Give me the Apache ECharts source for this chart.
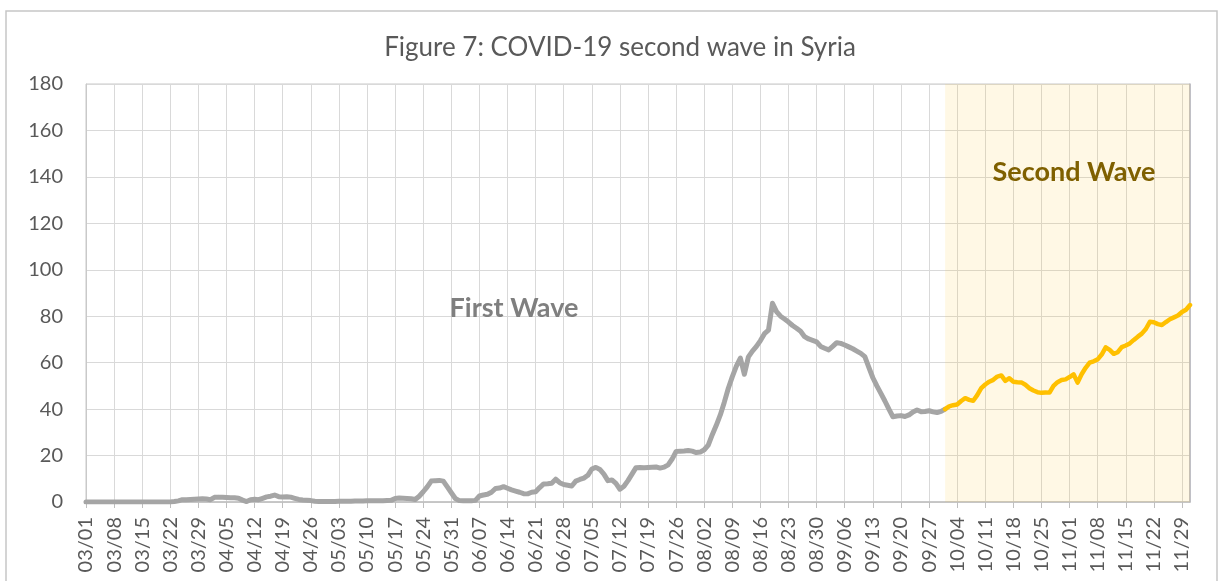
<!DOCTYPE html>
<html>
<head>
<meta charset="utf-8">
<script src="https://cdn.jsdelivr.net/npm/echarts@6/dist/echarts.min.js"></script>
<style>
  html, body { margin: 0; padding: 0; background: #ffffff; }
  #chart { width: 1223px; height: 581px; }
</style>
</head>
<body>
<div id="chart"></div>
<script>
// Daily 7-day average of new COVID-19 cases in Syria, 03/01 to 12/01.
const startDate = new Date(2020, 2, 1);
const dayCount = 276;

// First wave: one value per day from 03/01 through 10/01
const firstWave = [
  0, 0, 0, 0, 0, 0, 0, 0, 0, 0,
  0, 0, 0, 0, 0, 0, 0, 0, 0, 0,
  0, 0, 0.2, 0.5, 1.0, 1.0, 1.1, 1.2, 1.3, 1.4,
  1.3, 1.0, 2.0, 2.1, 2.0, 1.9, 1.8, 1.8, 1.6, 0.8,
  0.2, 1.0, 1.2, 1.0, 1.6, 2.2, 2.5, 3.0, 2.3, 2.2,
  2.3, 2.1, 1.6, 1.1, 0.9, 0.8, 0.6, 0.3, 0.2, 0.2,
  0.2, 0.2, 0.2, 0.3, 0.3, 0.3, 0.3, 0.4, 0.4, 0.4,
  0.5, 0.5, 0.5, 0.5, 0.5, 0.6, 0.7, 1.5, 1.7, 1.6,
  1.5, 1.4, 1.1, 2.5, 4.4, 6.5, 9.0, 9.2, 9.3, 9.0,
  6.5, 4.0, 1.5, 0.6, 0.5, 0.5, 0.5, 0.7, 2.6, 3.0,
  3.3, 4.2, 5.8, 6.0, 6.6, 5.9, 5.2, 4.7, 4.2, 3.6,
  3.5, 4.2, 4.4, 6.2, 7.8, 7.9, 8.1, 9.8, 8.3, 7.5,
  7.2, 6.9, 9.0, 9.7, 10.3, 11.5, 14.2, 14.9, 14.0, 12.0,
  9.2, 9.5, 8.0, 5.5, 6.8, 9.2, 12.0, 14.8, 14.9, 14.8,
  14.9, 15.0, 15.1, 14.6, 15.0, 16.0, 18.5, 21.8, 21.9, 22.0,
  22.2, 21.9, 21.3, 21.5, 22.5, 24.5, 29.0, 33.0, 37.5, 43.0,
  49.0, 54.0, 58.5, 62.0, 55.0, 62.5, 65.0, 67.0, 69.5, 72.5,
  74.0, 85.6, 82.0, 80.0, 78.8, 77.5, 76.0, 74.8, 73.5, 71.2,
  70.2, 69.6, 69.0, 67.0, 66.2, 65.5, 67.0, 68.6, 68.3, 67.6,
  66.8, 66.0, 65.0, 64.0, 62.6, 58.0, 53.5, 50.0, 46.8, 43.5,
  40.0, 36.7, 37.0, 37.2, 36.8, 37.5, 38.8, 39.6, 38.9, 39.0,
  39.3, 38.8, 38.5, 39.0, 40.0
];

// Second wave: one value per day from 10/01 through 12/01
const secondWaveStart = 214;
const secondWave = [
  40.0, 41.2, 41.7, 42.0, 43.5, 44.7, 44.0, 43.6, 46.0, 49.0,
  50.6, 51.8, 52.6, 54.0, 54.5, 52.2, 53.3, 51.8, 51.6, 51.5,
  50.5, 49.0, 48.0, 47.3, 47.0, 47.2, 47.1, 50.0, 51.6, 52.5,
  52.8, 53.8, 55.0, 51.4, 55.0, 57.8, 60.0, 60.6, 61.4, 63.5,
  66.6, 65.5, 63.8, 64.5, 66.7, 67.4, 68.3, 69.8, 71.2, 72.5,
  74.5, 77.6, 77.4, 76.6, 76.2, 77.5, 78.7, 79.5, 80.3, 81.8,
  82.8, 84.8
];

const yTicks = { min: 0, max: 180, step: 20 };

// Category labels MM/DD, one per day
const dates = [];
for (let i = 0; i < dayCount; i++) {
  const d = new Date(startDate.getTime());
  d.setDate(startDate.getDate() + i);
  const mm = String(d.getMonth() + 1).padStart(2, '0');
  const dd = String(d.getDate()).padStart(2, '0');
  dates.push(mm + '/' + dd);
}

const firstData = dates.map((_, i) => i < firstWave.length ? firstWave[i] : '-');
const secondData = dates.map((_, i) => {
  const k = i - secondWaveStart;
  return k >= 0 && k < secondWave.length ? secondWave[k] : '-';
});

const FONT = 'Lato, "Open Sans", sans-serif';
const chart = echarts.init(document.getElementById('chart'), null, { renderer: 'canvas' });

chart.setOption({
  animation: false,
  backgroundColor: '#ffffff',
  grid: {
    left: 86, right: 33, top: 84, bottom: 79,
    show: true, borderColor: '#C9C9C9', borderWidth: 1, backgroundColor: 'transparent'
  },
  xAxis: {
    type: 'category',
    data: dates,
    boundaryGap: false,
    axisLine: { show: true, lineStyle: { color: '#BFBFBF', width: 1.5 } },
    axisTick: { show: true, interval: 6, length: 6, lineStyle: { color: '#BFBFBF' } },
    axisLabel: {
      interval: 6, rotate: 90, margin: 15,
      color: '#595959', fontSize: 20, fontFamily: FONT
    },
    splitLine: { show: true, interval: 6, lineStyle: { color: '#D9D9D9', width: 1 } }
  },
  yAxis: [{
    type: 'value',
    min: yTicks.min, max: yTicks.max, interval: yTicks.step,
    axisLine: { show: true, lineStyle: { color: '#C9C9C9' } },
    axisTick: { show: false },
    axisLabel: { color: '#595959', fontSize: 20, fontFamily: FONT, margin: 23 },
    splitLine: { show: true, lineStyle: { color: '#D9D9D9', width: 1 } }
  }, {
    type: 'value', position: 'right',
    min: yTicks.min, max: yTicks.max, interval: yTicks.step,
    axisLine: { show: true, lineStyle: { color: '#B4B4BC', width: 1.5 } },
    axisTick: { show: false }, axisLabel: { show: false }, splitLine: { show: false }
  }],
  series: [
    {
      // shaded band marking the second wave period
      type: 'line', data: [], z: 1, silent: true,
      markArea: {
        silent: true,
        itemStyle: { color: 'rgba(252, 200, 40, 0.12)' },
        data: [[{ xAxis: dates[secondWaveStart] }, { xAxis: dates[dayCount - 1] }]]
      }
    },
    {
      name: 'First Wave', type: 'line', data: firstData, z: 3,
      showSymbol: false, connectNulls: false,
      lineStyle: { color: '#A5A5A5', width: 5, cap: 'round', join: 'round' }
    },
    {
      name: 'Second Wave', type: 'line', data: secondData, z: 4,
      showSymbol: false, connectNulls: false,
      lineStyle: { color: '#FFC000', width: 4.5, cap: 'round', join: 'round' }
    }
  ],
  graphic: [
    {
      type: 'rect', silent: true, z: -10,
      shape: { x: 6, y: 11, width: 1211, height: 590 },
      style: { fill: 'none', stroke: '#C6C6C6', lineWidth: 1.5 }
    },
    {
      type: 'text', x: 620, y: 48, z: 10,
      style: {
        text: 'Figure 7: COVID-19 second wave in Syria',
        fill: '#595959', font: '26px ' + FONT,
        textAlign: 'center', textVerticalAlign: 'middle'
      }
    },
    {
      type: 'text', x: 514, y: 308, z: 10,
      style: {
        text: 'First Wave', fill: '#7F7F7F', font: 'bold 27px ' + FONT,
        textAlign: 'center', textVerticalAlign: 'middle'
      }
    },
    {
      type: 'text', x: 1074, y: 172, z: 10,
      style: {
        text: 'Second Wave', fill: '#7F6000', font: 'bold 27px ' + FONT,
        textAlign: 'center', textVerticalAlign: 'middle'
      }
    }
  ]
});
</script>
</body>
</html>
